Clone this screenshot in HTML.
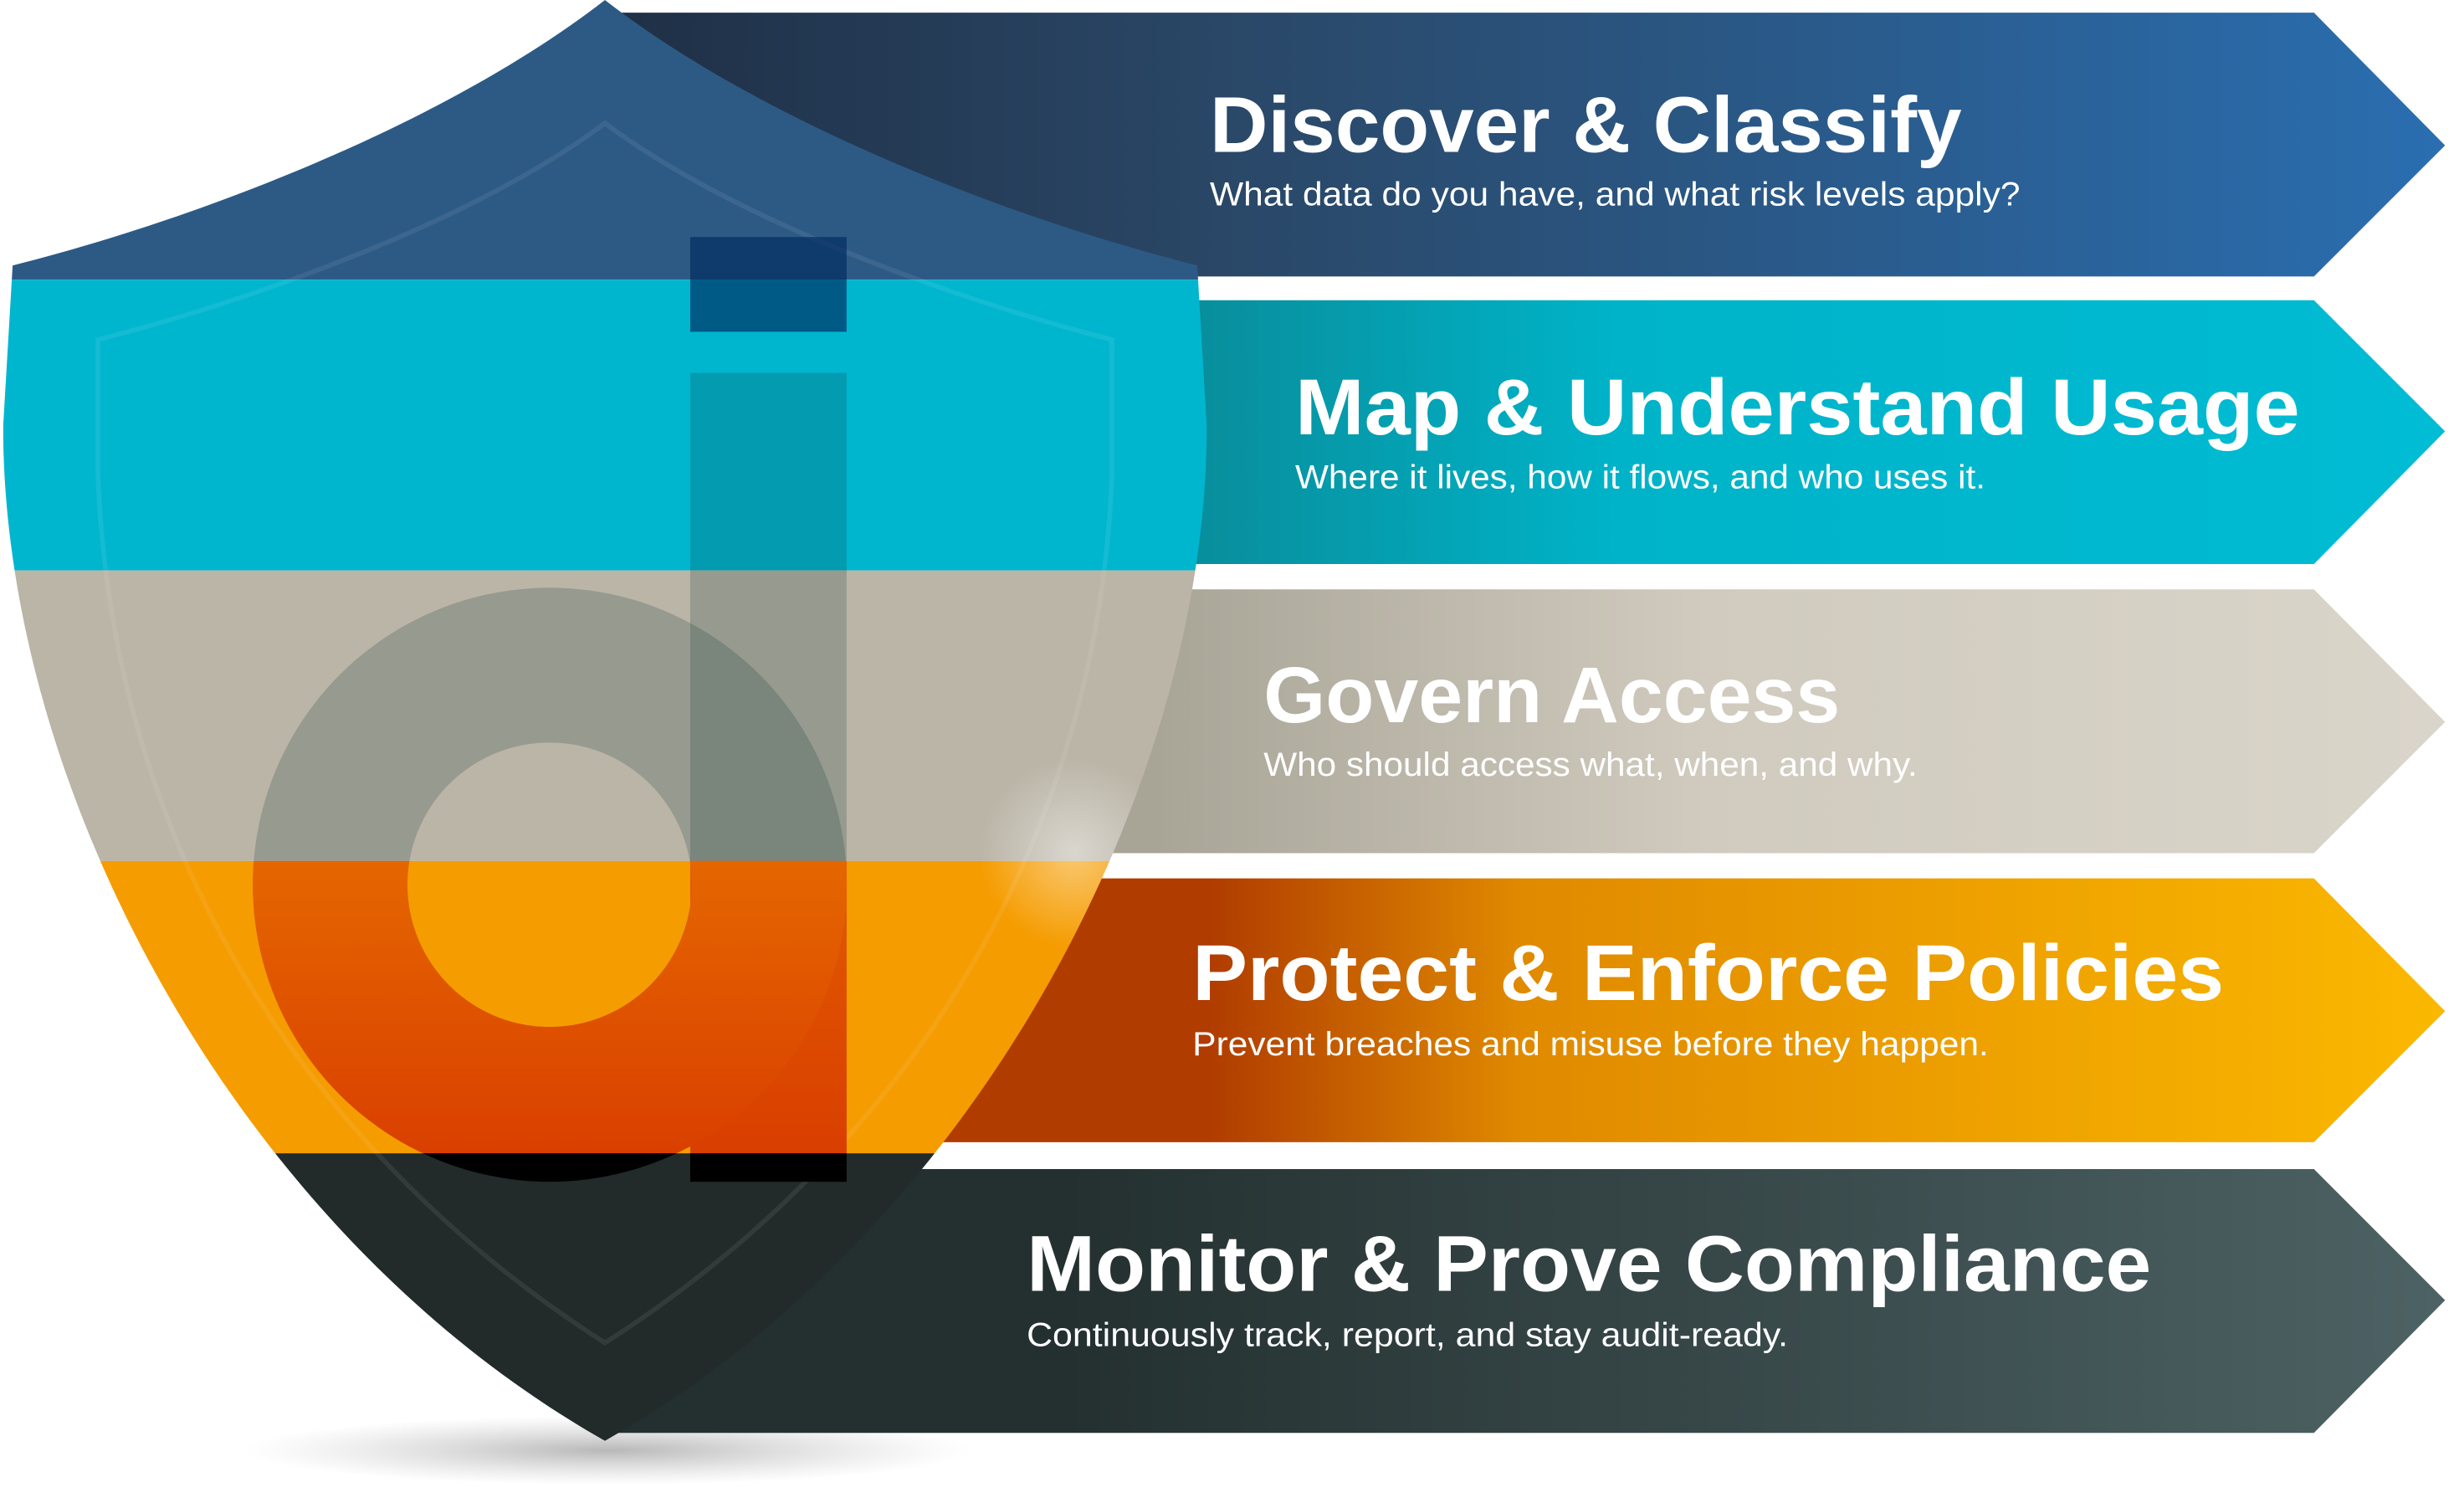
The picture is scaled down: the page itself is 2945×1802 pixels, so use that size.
<!DOCTYPE html>
<html><head><meta charset="utf-8"><style>
html,body{margin:0;padding:0;background:#fff;}
svg{display:block;}
text{font-family:"Liberation Sans",sans-serif;fill:#fff;}
.t{font-weight:bold;font-size:50px;}
.s{font-size:21px;}
</style></head><body>
<svg width="2945" height="1802" viewBox="0 0 1560 954.5" xmlns="http://www.w3.org/2000/svg">
<defs>
<linearGradient id="g1" x1="0" x2="1"><stop offset="0" stop-color="#1f2f45"/><stop offset="0.35" stop-color="#2a4868"/><stop offset="1" stop-color="#2a6eb0"/></linearGradient>
<linearGradient id="g2" x1="0" x2="1"><stop offset="0.28" stop-color="#0a8794"/><stop offset="0.55" stop-color="#00b3c8"/><stop offset="1" stop-color="#00bcd4"/></linearGradient>
<linearGradient id="g3" x1="0" x2="1"><stop offset="0.3" stop-color="#a8a496"/><stop offset="0.6" stop-color="#d0cbbe"/><stop offset="1" stop-color="#dad5ca"/></linearGradient>
<linearGradient id="g4" x1="0" x2="1"><stop offset="0.33" stop-color="#b03c00"/><stop offset="0.5" stop-color="#e08a00"/><stop offset="1" stop-color="#fbb800"/></linearGradient>
<linearGradient id="g5" x1="0" x2="1"><stop offset="0.25" stop-color="#243030"/><stop offset="1" stop-color="#4d6264"/></linearGradient>
<linearGradient id="dor" x1="0" y1="0" x2="0" y2="1"><stop offset="0" stop-color="#f08a00"/><stop offset="1" stop-color="#d83c00"/></linearGradient>
<clipPath id="sh"><path d="M383,0 C280,80 120,140 8,168 L2,270 C2,500 150,780 383,912 C616,780 764,500 764,270 L758,168 C646,140 486,80 383,0 Z"/></clipPath>
<clipPath id="orb"><rect x="0" y="545" width="770" height="185"/></clipPath>
<clipPath id="dkb"><rect x="0" y="730" width="770" height="30"/></clipPath>
<radialGradient id="shadow" cx="0.5" cy="0.5" r="0.5"><stop offset="0" stop-color="#999" stop-opacity="0.7"/><stop offset="1" stop-color="#bbb" stop-opacity="0"/></radialGradient>
<radialGradient id="glow" cx="0.5" cy="0.5" r="0.5"><stop offset="0" stop-color="#fff" stop-opacity="0.45"/><stop offset="1" stop-color="#fff" stop-opacity="0"/></radialGradient>
</defs>
<ellipse cx="385" cy="918" rx="230" ry="22" fill="url(#shadow)"/>
<polygon points="380,8 1465,8 1548,92 1465,175 380,175" fill="url(#g1)"/>
<polygon points="380,190 1465,190 1548,273 1465,357 380,357" fill="url(#g2)"/>
<polygon points="380,373 1465,373 1548,457 1465,540 380,540" fill="url(#g3)"/>
<polygon points="380,556 1465,556 1548,640 1465,723 380,723" fill="url(#g4)"/>
<polygon points="380,740 1465,740 1548,823 1465,907 380,907" fill="url(#g5)"/>
<g clip-path="url(#sh)">
<rect x="0" y="0" width="770" height="177" fill="#2d5a85"/>
<rect x="0" y="177" width="770" height="184" fill="#00b6cf"/>
<rect x="0" y="361" width="770" height="184" fill="#bbb5a7"/>
<rect x="0" y="545" width="770" height="185" fill="#f59c00"/>
<rect x="0" y="730" width="770" height="190" fill="#222a2a"/>
<path d="M383,78 C300,140 160,190 62,215 L62,300 C70,520 180,720 383,850 C586,720 696,520 704,300 L704,215 C606,190 466,140 383,78 Z" fill="none" stroke="#ffffff" stroke-opacity="0.08" stroke-width="3"/>
<g fill="#0a3030" fill-opacity="0.2">
<rect x="437" y="236" width="99" height="494"/>
<path fill-rule="evenodd" d="M348,372 a188,188 0 1,0 0.1,0 Z M348,470 a90,90 0 1,1 -0.1,0 Z"/>
</g>
<g clip-path="url(#orb)" fill="url(#dor)">
<rect x="437" y="236" width="99" height="512"/>
<path fill-rule="evenodd" d="M348,372 a188,188 0 1,0 0.1,0 Z M348,470 a90,90 0 1,1 -0.1,0 Z"/>
</g>
<g clip-path="url(#dkb)" fill="#000">
<rect x="437" y="236" width="99" height="512"/>
<path fill-rule="evenodd" d="M348,372 a188,188 0 1,0 0.1,0 Z M348,470 a90,90 0 1,1 -0.1,0 Z"/>
</g>
<rect x="437" y="150" width="99" height="60" fill="#002a60" fill-opacity="0.65"/>
<ellipse cx="680" cy="540" rx="60" ry="60" fill="url(#glow)"/>
</g>
<text class="t" x="766" y="96" textLength="476" lengthAdjust="spacingAndGlyphs">Discover &amp; Classify</text>
<text class="s" x="766" y="130" textLength="513" lengthAdjust="spacingAndGlyphs">What data do you have, and what risk levels apply?</text>
<text class="t" x="820" y="275" textLength="636" lengthAdjust="spacingAndGlyphs">Map &amp; Understand Usage</text>
<text class="s" x="820" y="309" textLength="437" lengthAdjust="spacingAndGlyphs">Where it lives, how it flows, and who uses it.</text>
<text class="t" x="800" y="457" textLength="365" lengthAdjust="spacingAndGlyphs">Govern Access</text>
<text class="s" x="800" y="491" textLength="414" lengthAdjust="spacingAndGlyphs">Who should access what, when, and why.</text>
<text class="t" x="755" y="633" textLength="653" lengthAdjust="spacingAndGlyphs">Protect &amp; Enforce Policies</text>
<text class="s" x="755" y="668" textLength="504" lengthAdjust="spacingAndGlyphs">Prevent breaches and misuse before they happen.</text>
<text class="t" x="650" y="817" textLength="712" lengthAdjust="spacingAndGlyphs">Monitor &amp; Prove Compliance</text>
<text class="s" x="650" y="852" textLength="482" lengthAdjust="spacingAndGlyphs">Continuously track, report, and stay audit-ready.</text>
</svg>
</body></html>
